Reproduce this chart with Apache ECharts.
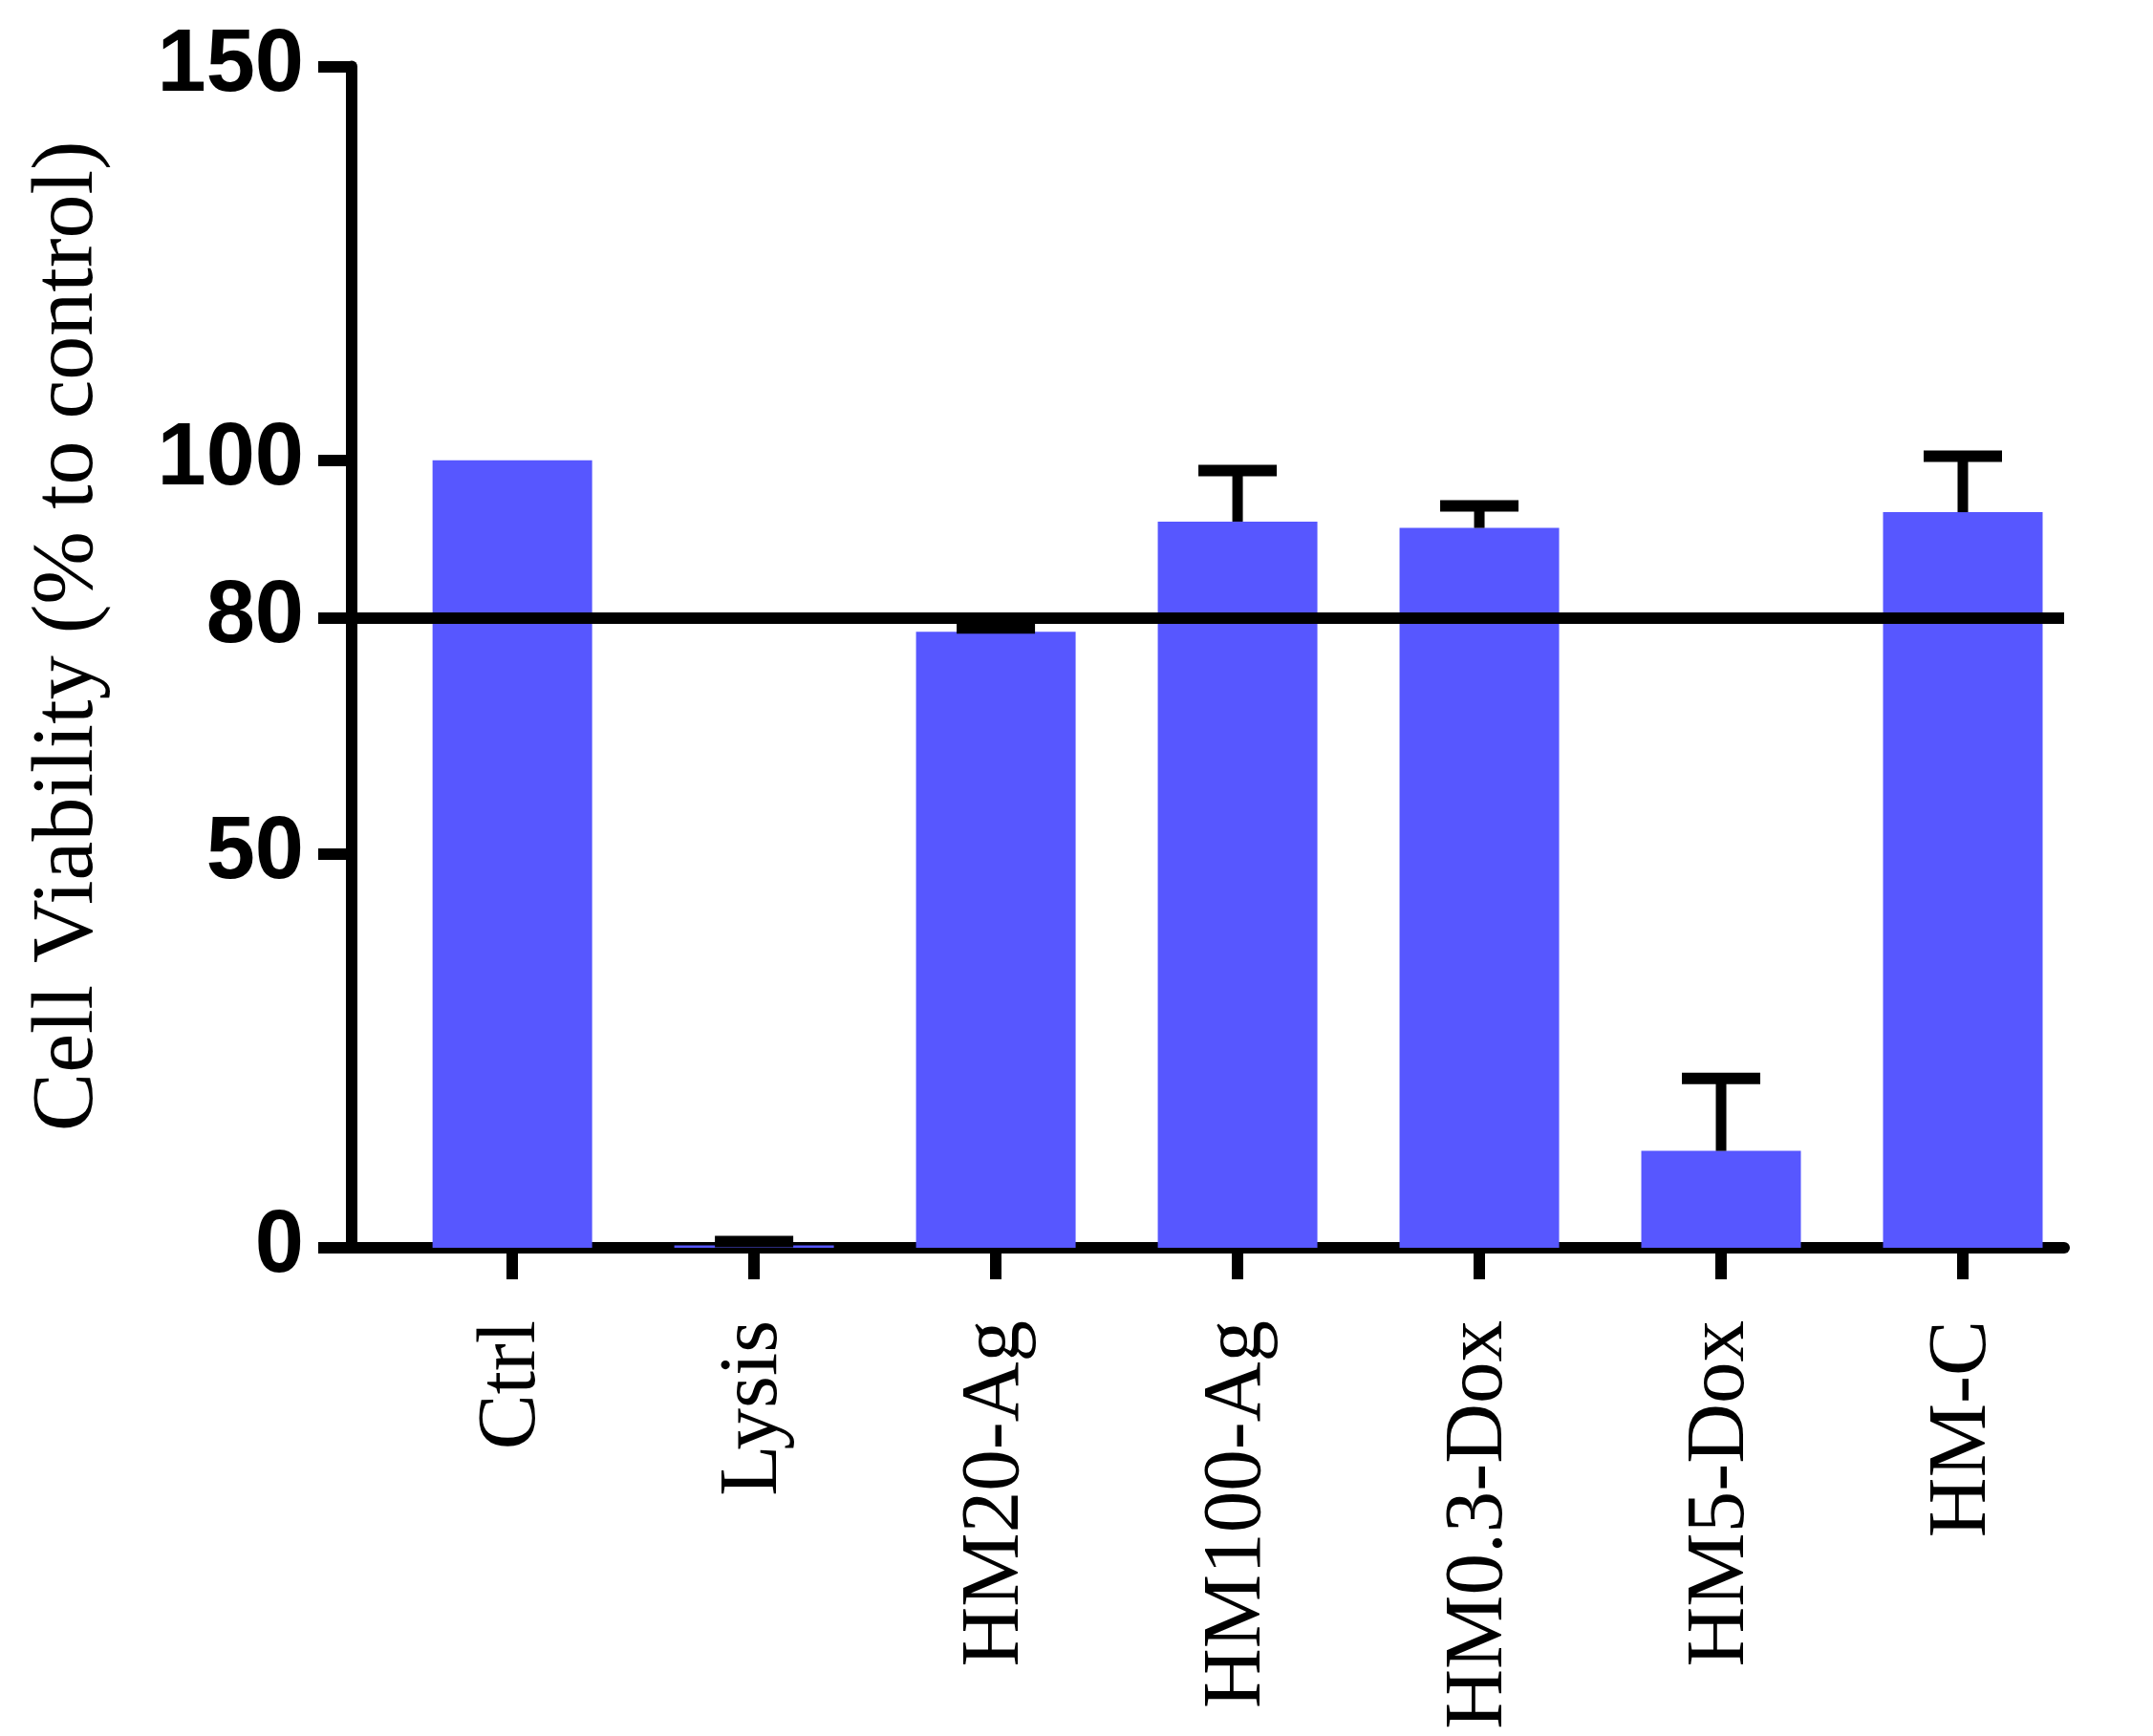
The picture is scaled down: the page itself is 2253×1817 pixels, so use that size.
<!DOCTYPE html>
<html>
<head>
<meta charset="utf-8">
<script src="https://cdn.jsdelivr.net/npm/echarts@6/dist/echarts.min.js"></script>
<style>
html,body{margin:0;padding:0;background:#fff;}
#chart{width:2253px;height:1817px;}
</style>
</head>
<body>
<div id="chart"></div>
<script>
const categories = ['Ctrl', 'Lysis', 'HM20-Ag', 'HM100-Ag', 'HM0.3-Dox', 'HM5-Dox', 'HM-C'];
const means = [100, 0.3, 78.2, 92.2, 91.4, 12.3, 93.4];
const errors = [0, 0.5, 0.5, 6.5, 2.8, 9.2, 7.1];
const yTickValues = [0, 50, 80, 100, 150];
const thresholdValue = 80;
const yAxisTitle = 'Cell Viability (% to control)';

const catIndex = categories.map((c, i) => i);
const barData = means.map((m, i) => [i, m]);
const errData = means.map((m, i) => [i, m, errors[i]]);

const chart = echarts.init(document.getElementById('chart'), null, {renderer: 'canvas'});
chart.setOption({
  backgroundColor: '#ffffff',
  animation: false,
  grid: {left: 368, right: 93, top: 69.5, bottom: 511, containLabel: false},
  xAxis: {
    type: 'value',
    min: -0.6646,
    max: 6.419,
    splitLine: {show: false},
    axisLine: {show: true, onZero: false, lineStyle: {color: '#000', width: 12}},
    axisTick: {show: true, customValues: catIndex, length: 33, lineStyle: {color: '#000', width: 12}},
    axisLabel: {
      show: true,
      customValues: catIndex,
      rotate: 90,
      margin: 76,
      fontFamily: 'Liberation Serif',
      fontSize: 87,
      color: '#000',
      formatter: function (v) { return categories[Math.round(v)]; }
    }
  },
  yAxis: {
    type: 'value',
    min: 0,
    max: 150,
    splitLine: {show: false},
    axisLine: {show: true, onZero: false, lineStyle: {color: '#000', width: 12}},
    axisTick: {show: true, customValues: yTickValues, length: 35, lineStyle: {color: '#000', width: 12}},
    axisLabel: {
      show: true,
      customValues: yTickValues,
      margin: 50,
      fontFamily: 'Liberation Sans',
      fontWeight: 'bold',
      fontSize: 92,
      color: '#000'
    },
    name: yAxisTitle,
    nameLocation: 'middle',
    nameGap: 250,
    nameTextStyle: {
      fontFamily: 'Liberation Serif',
      fontSize: 92,
      color: '#000',
      padding: [0, 0, 0, 44]
    }
  },
  series: [
    {
      type: 'bar',
      data: barData,
      barWidth: 167,
      itemStyle: {color: '#5757FF'},
      z: 2,
      markLine: {
        silent: true,
        symbol: ['none', 'none'],
        label: {show: false},
        lineStyle: {color: '#000', width: 12, type: 'solid'},
        data: [{yAxis: thresholdValue}],
        z: 5
      }
    },
    {
      type: 'custom',
      data: errData,
      z: 4,
      renderItem: function (params, api) {
        const x = api.value(0), m = api.value(1), e = api.value(2);
        if (!e) return null;
        const base = api.coord([x, m]);
        const top = api.coord([x, m + e]);
        const half = 41;
        return {
          type: 'group',
          children: [
            {type: 'line', shape: {x1: base[0], y1: base[1], x2: top[0], y2: top[1]},
             style: {stroke: '#000', lineWidth: 11}},
            {type: 'line', shape: {x1: top[0] - half, y1: top[1], x2: top[0] + half, y2: top[1]},
             style: {stroke: '#000', lineWidth: 12}}
          ]
        };
      }
    }
  ]
});
</script>
</body>
</html>
